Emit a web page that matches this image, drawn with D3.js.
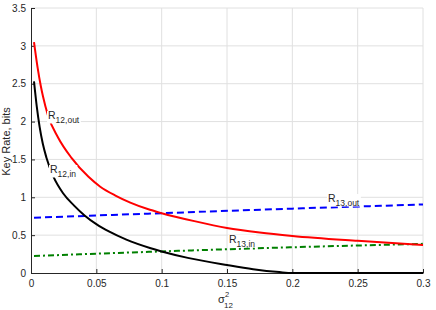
<!DOCTYPE html>
<html>
<head>
<meta charset="utf-8">
<script src="https://cdn.jsdelivr.net/npm/d3@7"></script>
<style>
  body { margin: 0; background: #fff; }
  text { font-family: "Liberation Sans", Arial, sans-serif; fill: #262626; }
</style>
</head>
<body>
<script>
// values
const r12OutX = [0.0023, 0.005, 0.0075, 0.0092, 0.013, 0.0207, 0.031, 0.044, 0.053, 0.065, 0.076, 0.091, 0.1, 0.125, 0.15, 0.175, 0.2, 0.25, 0.3]
const r12OutY = [3.05, 2.72, 2.47, 2.33, 2.08, 1.79, 1.52, 1.27, 1.14, 1.02, 0.93, 0.835, 0.79, 0.685, 0.595, 0.535, 0.49, 0.425, 0.37]

const r12InX = [0.0023, 0.0044, 0.0066, 0.009, 0.0117, 0.017, 0.0247, 0.033, 0.041, 0.05, 0.06, 0.073, 0.091, 0.1, 0.12, 0.15, 0.17, 0.19, 0.2, 0.25, 0.3]
const r12InY = [2.53, 2.20, 1.93, 1.71, 1.53, 1.28, 1.05, 0.89, 0.76, 0.645, 0.545, 0.44, 0.33, 0.285, 0.20, 0.105, 0.05, 0.012, 0, 0, 0]

const r13OutX = [0.0023, 0.1, 0.2, 0.3]
const r13OutY = [0.73, 0.79, 0.85, 0.905]

const r13InX = [0.0023, 0.1, 0.2, 0.3]
const r13InY = [0.225, 0.285, 0.34, 0.385]

const xTicks = [0, 0.05, 0.1, 0.15, 0.2, 0.25, 0.3]
const yTicks = [0, 0.5, 1, 1.5, 2, 2.5, 3, 3.5]

const width = 436
const height = 310
const margin = { left: 31, right: 13, top: 8, bottom: 37 }

let svg = d3
  .select('body')
  .append('svg')
  .attr('width', width)
  .attr('height', height)

let x = d3.scaleLinear()
  .domain([0, 0.3])
  .range([margin.left, width - margin.right])

let y = d3.scaleLinear()
  .domain([0, 3.5])
  .range([height - margin.bottom, margin.top])

// grid
svg.append('g')
  .selectAll('line')
  .data(xTicks.slice(1))
  .enter()
  .append('line')
  .attr('x1', d => x(d)).attr('x2', d => x(d))
  .attr('y1', y(0)).attr('y2', y(3.5))
  .attr('stroke', '#e0e0e0')

svg.append('g')
  .selectAll('line')
  .data(yTicks.slice(1))
  .enter()
  .append('line')
  .attr('x1', x(0)).attr('x2', x(0.3))
  .attr('y1', d => y(d)).attr('y2', d => y(d))
  .attr('stroke', '#e0e0e0')

// axes
svg.append('g')
  .attr('transform', `translate(0,${y(0)})`)
  .call(d3.axisBottom(x).tickValues(xTicks).tickFormat(d3.format('~g')).tickSizeInner(-4).tickSizeOuter(0).tickPadding(7))

svg.append('g')
  .attr('transform', `translate(${x(0)},0)`)
  .call(d3.axisLeft(y).tickValues(yTicks).tickFormat(d3.format('~g')).tickSizeInner(-4).tickSizeOuter(0).tickPadding(5))

svg.selectAll('.domain').attr('stroke', '#262626')
svg.selectAll('.tick line').attr('stroke', '#262626')
svg.selectAll('.tick text')
  .style('font-family', '"Liberation Sans", Arial, sans-serif')
  .style('font-size', '10px')
  .attr('fill', '#262626')

// curves
const line = d3.line()
  .x(d => x(d[0]))
  .y(d => y(d[1]))
  .curve(d3.curveMonotoneX)

const series = [
  { xs: r13InX, ys: r13InY, color: '#008000', dash: '6,3,2,3' },
  { xs: r13OutX, ys: r13OutY, color: '#0000ff', dash: '7,4' },
  { xs: r12InX, ys: r12InY, color: '#000000', dash: null },
  { xs: r12OutX, ys: r12OutY, color: '#ff0000', dash: null }
]

series.forEach(s => {
  svg.append('path')
    .datum(d3.zip(s.xs, s.ys))
    .attr('d', line)
    .attr('fill', 'none')
    .attr('stroke', s.color)
    .attr('stroke-width', 2)
    .attr('stroke-dasharray', s.dash)
})

// curve labels
const labels = [
  { sub: '12,out', px: 48, py: 119 },
  { sub: '12,in', px: 50, py: 173 },
  { sub: '13,out', px: 328, py: 202 },
  { sub: '13,in', px: 229, py: 243 }
]

labels.forEach(l => {
  let g = svg.append('g')
  let bg = g.append('rect').attr('fill', '#fff')
  let t = g.append('text')
    .attr('x', l.px)
    .attr('y', l.py)
    .style('font-size', '10.5px')
  t.append('tspan').text('R')
  t.append('tspan')
    .attr('dy', 3.5)
    .style('font-size', '8.5px')
    .text(l.sub)
  const b = t.node().getBBox()
  bg.attr('x', b.x - 1).attr('y', b.y + 2).attr('width', b.width + 2).attr('height', b.height - 3)
})

// axis titles
svg.append('text')
  .attr('transform', `translate(10,${(y(0) + y(3.5)) / 2 + 1}) rotate(-90)`)
  .attr('text-anchor', 'middle')
  .style('font-size', '11px')
  .text('Key Rate, bits')

svg.append('text')
  .attr('x', 218)
  .attr('y', 303)
  .style('font-size', '11px')
  .text('σ')

svg.append('text')
  .attr('x', 225)
  .attr('y', 297)
  .style('font-size', '7.5px')
  .text('2')

svg.append('text')
  .attr('x', 224)
  .attr('y', 308)
  .style('font-size', '8px')
  .text('12')
</script>
</body>
</html>
